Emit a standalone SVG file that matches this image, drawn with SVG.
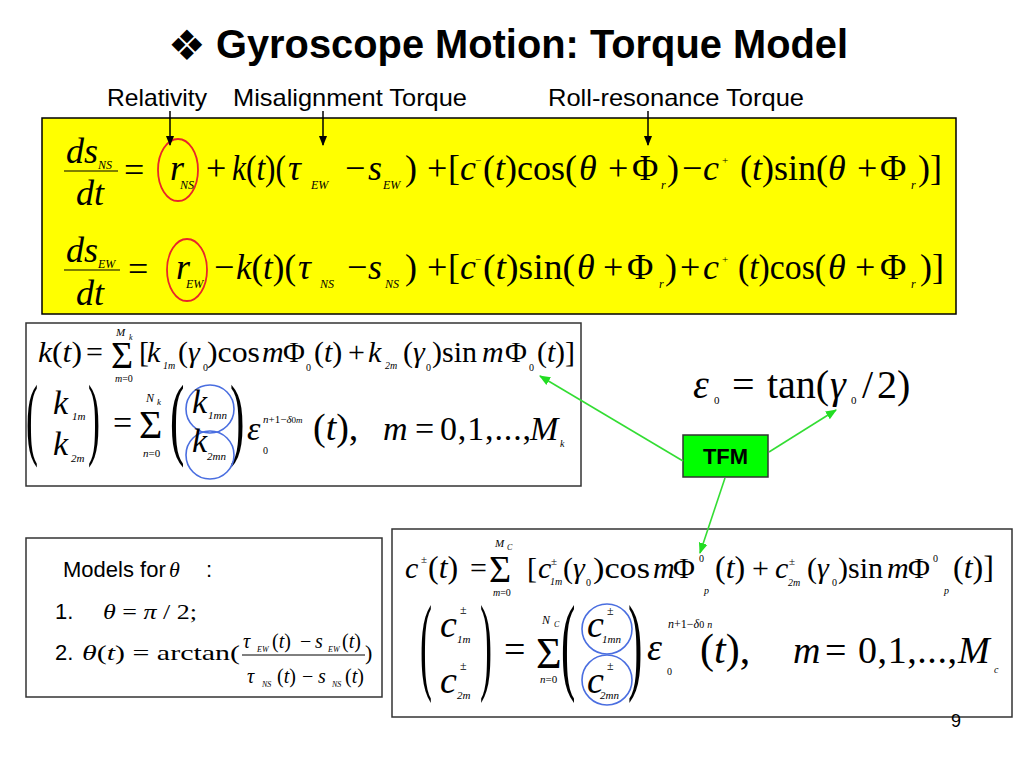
<svg xmlns="http://www.w3.org/2000/svg" width="1024" height="768" viewBox="0 0 1024 768">
<defs>
<style>
.m{font-family:"Liberation Serif","Times New Roman",serif;fill:#000}
.i{font-style:italic}
.s{font-family:"Liberation Sans",Arial,sans-serif;fill:#000}
.box{fill:#fff;stroke:#333;stroke-width:1.5}
.red{fill:none;stroke:#e8262a;stroke-width:1.8}
.blue{fill:none;stroke:#4a6ee0;stroke-width:1.6}
.blk{stroke:#000;stroke-width:1.5;fill:none}
.grn{stroke:#33dd33;stroke-width:1.6;fill:none}
</style>
<marker id="ab" viewBox="0 0 10 10" refX="9" refY="5" markerWidth="7" markerHeight="7" orient="auto"><path d="M0,1 L10,5 L0,9 Z" fill="#000"/></marker>
<marker id="ag" viewBox="0 0 10 10" refX="9" refY="5" markerWidth="7" markerHeight="7" orient="auto"><path d="M0,1 L10,5 L0,9 Z" fill="#22dd22"/></marker>
</defs>
<rect width="1024" height="768" fill="#fff"/>

<g id="title">
<text x="168" y="60" font-family="DejaVu Sans,sans-serif" font-size="42">❖</text>
<text class="s" x="216" y="58" font-size="40" font-weight="bold" textLength="632" lengthAdjust="spacingAndGlyphs">Gyroscope Motion: Torque Model</text>
</g>

<g id="labels" class="s" font-size="24">
<text x="107" y="106" textLength="100" lengthAdjust="spacingAndGlyphs">Relativity</text>
<text x="233" y="106" textLength="234" lengthAdjust="spacingAndGlyphs">Misalignment Torque</text>
<text x="548" y="106" textLength="256" lengthAdjust="spacingAndGlyphs">Roll-resonance Torque</text>
</g>

<g id="yellow-box">
<rect x="42" y="118" width="914" height="196" fill="#ffff00" stroke="#000" stroke-width="1.5"/>
<ellipse class="red" cx="178" cy="170" rx="20" ry="31"/>
<ellipse class="red" cx="187" cy="270" rx="20" ry="31"/>
<line x1="64" y1="171" x2="118" y2="171" stroke="#000" stroke-width="1.2"/>
<line x1="64" y1="270" x2="120" y2="270" stroke="#000" stroke-width="1.2"/>
<g class="m" font-size="36">
<text class="i" x="66" y="163">ds</text>
<text class="i" x="76" y="205">dt</text>
<text x="124" y="182">=</text>
<text class="i" x="170" y="180">r</text>
<text x="206" y="180">+</text>
<text x="232" y="180" textLength="54" lengthAdjust="spacingAndGlyphs"><tspan class="i">k</tspan>(<tspan class="i">t</tspan>)(</text>
<text class="i" x="288" y="180">τ</text>
<text x="345" y="180">−</text>
<text class="i" x="368" y="180">s</text>
<text x="405" y="180">)</text>
<text x="427" y="180">+</text>
<text x="448" y="180">[</text>
<text class="i" x="460" y="180">c</text>
<text x="483" y="180" textLength="94" lengthAdjust="spacingAndGlyphs">(<tspan class="i">t</tspan>)cos(</text>
<text class="i" x="579" y="180">θ</text>
<text x="608" y="180">+</text>
<text x="632" y="180">Φ</text>
<text x="667" y="180">)</text>
<text x="682" y="180">−</text>
<text class="i" x="703" y="180">c</text>
<text x="740" y="180" textLength="88" lengthAdjust="spacingAndGlyphs">(<tspan class="i">t</tspan>)sin(</text>
<text class="i" x="828" y="180">θ</text>
<text x="857" y="180">+</text>
<text x="880" y="180">Φ</text>
<text x="918" y="180">)]</text>

<text class="i" x="66" y="262">ds</text>
<text class="i" x="76" y="305">dt</text>
<text x="128" y="281">=</text>
<text class="i" x="176" y="279">r</text>
<text x="214" y="279">−</text>
<text x="236" y="279" textLength="60" lengthAdjust="spacingAndGlyphs"><tspan class="i">k</tspan>(<tspan class="i">t</tspan>)(</text>
<text class="i" x="298" y="279">τ</text>
<text x="347" y="279">−</text>
<text class="i" x="368" y="279">s</text>
<text x="405" y="279">)</text>
<text x="427" y="279">+</text>
<text x="448" y="279">[</text>
<text class="i" x="460" y="279">c</text>
<text x="483" y="279" textLength="92" lengthAdjust="spacingAndGlyphs">(<tspan class="i">t</tspan>)sin(</text>
<text class="i" x="577" y="279">θ</text>
<text x="603" y="279">+</text>
<text x="627" y="279">Φ</text>
<text x="665" y="279">)</text>
<text x="680" y="279">+</text>
<text class="i" x="703" y="279">c</text>
<text x="738" y="279" textLength="88" lengthAdjust="spacingAndGlyphs">(<tspan class="i">t</tspan>)cos(</text>
<text class="i" x="828" y="279">θ</text>
<text x="855" y="279">+</text>
<text x="880" y="279">Φ</text>
<text x="920" y="279">)]</text>
</g>
<g class="m i" font-size="12">
<text x="98" y="169">NS</text>
<text x="180" y="189">NS</text>
<text x="311" y="189">EW</text>
<text x="383" y="189">EW</text>
<text x="661" y="189">r</text>
<text x="911" y="189">r</text>
<text x="98" y="268">EW</text>
<text x="186" y="288">EW</text>
<text x="320" y="288">NS</text>
<text x="385" y="288">NS</text>
<text x="659" y="288">r</text>
<text x="911" y="288">r</text>
</g>
<g class="m" font-size="11">
<text x="475" y="164">−</text>
<text x="722" y="164">+</text>
<text x="475" y="263">−</text>
<text x="722" y="263">+</text>
</g>
</g>

<g id="k-box">
<rect class="box" x="26" y="323" width="555" height="163"/>
<g class="m" font-size="30">
<text x="38" y="362" textLength="44" lengthAdjust="spacingAndGlyphs"><tspan class="i">k</tspan>(<tspan class="i">t</tspan>)</text>
<text x="86" y="362">=</text>
<text x="111" y="368" font-size="38">Σ</text>
<text x="139" y="362">[</text>
<text class="i" x="147" y="362">k</text>
<text x="178" y="362">(<tspan class="i">γ</tspan></text>
<text x="207" y="362" textLength="53" lengthAdjust="spacingAndGlyphs">)cos</text>
<text class="i" x="262" y="362">m</text>
<text x="283" y="362">Φ</text>
<text x="314" y="362">(<tspan class="i">t</tspan>)</text>
<text x="348" y="362">+</text>
<text class="i" x="368" y="362">k</text>
<text x="403" y="362">(<tspan class="i">γ</tspan></text>
<text x="432" y="362" textLength="45" lengthAdjust="spacingAndGlyphs">)sin</text>
<text class="i" x="482" y="362">m</text>
<text x="505" y="362">Φ</text>
<text x="537" y="362" textLength="38" lengthAdjust="spacing">(<tspan class="i">t</tspan>)]</text>
</g>
<g class="m" font-size="10">
<text class="i" x="116" y="336" font-size="11">M</text><text class="i" x="129" y="340" font-size="8">k</text>
<text x="115" y="382"><tspan class="i">m</tspan>=0</text>
<text class="i" x="163" y="369">1m</text>
<text x="203" y="371">0</text>
<text x="306" y="371">0</text>
<text class="i" x="385" y="369">2m</text>
<text x="426" y="371">0</text>
<text x="529" y="371">0</text>
</g>
<g class="m" font-size="36">
<text transform="translate(26,448) scale(1,2.53)">(</text>
<text transform="translate(88,448) scale(1,2.53)">)</text>
<text transform="translate(170,448) scale(1.2,2.53)">(</text>
<text transform="translate(230,448) scale(1.2,2.53)">)</text>
</g>
<circle class="blue" cx="210" cy="409" r="24"/>
<circle class="blue" cx="210" cy="455" r="24"/>
<g class="m" font-size="34">
<text class="i" x="53" y="414">k</text>
<text class="i" x="53" y="455">k</text>
<text x="113" y="434">=</text>
<text x="139" y="438" font-size="40">Σ</text>
<text class="i" x="192" y="413">k</text>
<text class="i" x="192" y="452">k</text>
<text class="i" x="247" y="440">ε</text>
<text x="313" y="440" font-size="38">(<tspan class="i">t</tspan>),</text>
<text class="i" x="383" y="440">m</text>
<text x="415" y="440">=</text>
<text x="440" y="440" textLength="91" lengthAdjust="spacing">0,1,...,</text>
<text class="i" x="530" y="440">M</text>
</g>
<g class="m" font-size="11">
<text class="i" x="72" y="420">1m</text>
<text class="i" x="71" y="462">2m</text>
<text class="i" x="146" y="402" font-size="12">N</text><text class="i" x="157" y="405" font-size="9">k</text>
<text x="143" y="457"><tspan class="i">n</tspan>=0</text>
<text class="i" x="208" y="419">1mn</text>
<text class="i" x="207" y="460">2mn</text>
<text x="263" y="423"><tspan class="i">n</tspan>+1−<tspan class="i">δ</tspan><tspan font-size="9">0</tspan><tspan class="i" font-size="9">m</tspan></text>
<text x="263" y="454" font-size="10">0</text>
<text class="i" x="560" y="447" font-size="10">k</text>
</g>
</g>

<g id="epsilon-eq" class="m" font-size="40">
<text class="i" x="693" y="398">ε</text>
<text x="714" y="404" font-size="11">0</text>
<text x="732" y="398">=</text>
<text x="767" y="398">tan(</text>
<text class="i" x="830" y="398">γ</text>
<text x="851" y="404" font-size="11">0</text>
<text x="862" y="398">/</text>
<text x="877" y="398">2)</text>
</g>

<g id="tfm">
<rect x="683" y="435" width="85" height="42" fill="#00ff00" stroke="#333" stroke-width="1.5"/>
<text class="s" x="725.5" y="464" font-size="22" font-weight="bold" text-anchor="middle">TFM</text>
</g>

<g id="models-box">
<rect class="box" x="26" y="538" width="356" height="159"/>
<text class="s" x="63" y="577" font-size="22">Models for</text>
<text class="m i" x="169" y="577" font-size="22">θ</text>
<text class="s" x="206" y="577" font-size="22">:</text>
<text class="s" x="55" y="619" font-size="22">1.</text>
<text class="m" x="103" y="619" font-size="22" textLength="94" lengthAdjust="spacingAndGlyphs"><tspan class="i">θ</tspan> = <tspan class="i">π</tspan> / 2;</text>
<text class="s" x="55" y="660" font-size="22">2.</text>
<text class="m" x="82" y="660" font-size="22" textLength="158" lengthAdjust="spacingAndGlyphs"><tspan class="i">θ</tspan>(<tspan class="i">t</tspan>) = arctan(</text>
<line x1="242" y1="655" x2="365" y2="655" stroke="#000" stroke-width="1"/>
<g class="m" font-size="20">
<text class="i" x="243" y="648">τ</text>
<text x="272" y="648">(<tspan class="i">t</tspan>)</text>
<text x="300" y="648">−</text>
<text class="i" x="315" y="648">s</text>
<text x="342" y="648">(<tspan class="i">t</tspan>)</text>
<text class="i" x="247" y="683">τ</text>
<text x="277" y="683">(<tspan class="i">t</tspan>)</text>
<text x="302" y="683">−</text>
<text class="i" x="318" y="683">s</text>
<text x="345" y="683">(<tspan class="i">t</tspan>)</text>
<text x="365" y="660" font-size="22">)</text>
</g>
<g class="m i" font-size="8">
<text x="257" y="652">EW</text>
<text x="328" y="652">EW</text>
<text x="262" y="687">NS</text>
<text x="332" y="687">NS</text>
</g>
</g>

<g id="c-box">
<rect class="box" x="392" y="529" width="620" height="188"/>
<g class="m" font-size="30">
<text class="i" x="405" y="578">c</text>
<text x="428" y="578" font-size="32">(<tspan class="i">t</tspan>)</text>
<text x="470" y="578">=</text>
<text x="489" y="582" font-size="38">Σ</text>
<text x="527" y="578">[</text>
<text class="i" x="538" y="578">c</text>
<text x="563" y="578">(<tspan class="i">γ</tspan></text>
<text x="593" y="578" textLength="57" lengthAdjust="spacingAndGlyphs">)cos</text>
<text class="i" x="653" y="578">m</text>
<text x="673" y="578">Φ</text>
<text x="715" y="578" font-size="32">(<tspan class="i">t</tspan>)</text>
<text x="752" y="578">+</text>
<text class="i" x="775" y="578">c</text>
<text x="807" y="578">(<tspan class="i">γ</tspan></text>
<text x="838" y="578" textLength="45" lengthAdjust="spacingAndGlyphs">)sin</text>
<text class="i" x="887" y="578">m</text>
<text x="908" y="578">Φ</text>
<text x="953" y="578" font-size="32">(<tspan class="i">t</tspan>)]</text>
</g>
<g class="m" font-size="10">
<text x="421" y="563" font-size="11">±</text>
<text class="i" x="495" y="547" font-size="11">M</text><text class="i" x="507" y="550" font-size="8">C</text>
<text x="493" y="596"><tspan class="i">m</tspan>=0</text>
<text x="551" y="565" font-size="11">±</text>
<text class="i" x="550" y="585">1m</text>
<text x="586" y="586">0</text>
<text x="699" y="562">0</text>
<text class="i" x="704" y="594">p</text>
<text x="789" y="565" font-size="11">±</text>
<text class="i" x="788" y="586">2m</text>
<text x="832" y="586">0</text>
<text x="933" y="562">0</text>
<text class="i" x="944" y="594">p</text>
</g>
<g class="m" font-size="36">
<text transform="translate(420,680) scale(1,2.99)">(</text>
<text transform="translate(480,680) scale(1,2.99)">)</text>
<text transform="translate(561,680) scale(1.2,2.99)">(</text>
<text transform="translate(628,680) scale(1.2,2.99)">)</text>
</g>
<circle class="blue" cx="607" cy="629" r="25"/>
<circle class="blue" cx="607" cy="680" r="25"/>
<g class="m" font-size="38">
<text class="i" x="440" y="637">c</text>
<text class="i" x="440" y="693">c</text>
<text x="504" y="662">=</text>
<text x="536" y="668" font-size="44">Σ</text>
<text class="i" x="587" y="637">c</text>
<text class="i" x="587" y="693">c</text>
<text class="i" x="647" y="660">ε</text>
<text x="700" y="663" font-size="42">(<tspan class="i">t</tspan>),</text>
<text class="i" x="793" y="663">m</text>
<text x="825" y="663">=</text>
<text x="858" y="663" textLength="99" lengthAdjust="spacing">0,1,...,</text>
<text class="i" x="958" y="663">M</text>
</g>
<g class="m" font-size="11">
<text x="460" y="614" font-size="12">±</text>
<text class="i" x="457" y="643">1m</text>
<text x="460" y="670" font-size="12">±</text>
<text class="i" x="457" y="699">2m</text>
<text class="i" x="542" y="624" font-size="12">N</text><text class="i" x="554" y="627" font-size="8">C</text>
<text x="540" y="683"><tspan class="i">n</tspan>=0</text>
<text x="607" y="615" font-size="12">±</text>
<text class="i" x="602" y="643">1mn</text>
<text x="607" y="670" font-size="12">±</text>
<text class="i" x="600" y="699">2mn</text>
<text x="668" y="628" font-size="12"><tspan class="i">n</tspan>+1−<tspan class="i">δ</tspan><tspan font-size="10">0</tspan> <tspan class="i" font-size="10">n</tspan></text>
<text x="667" y="675" font-size="10">0</text>
<text class="i" x="994" y="673" font-size="10">c</text>
</g>
</g>

<g id="connectors">
<line class="blk" x1="170" y1="111" x2="170" y2="145" marker-end="url(#ab)"/>
<line class="blk" x1="323" y1="111" x2="323" y2="145" marker-end="url(#ab)"/>
<line class="blk" x1="648" y1="111" x2="648" y2="145" marker-end="url(#ab)"/>
<line class="grn" x1="683" y1="461" x2="540" y2="376" marker-end="url(#ag)"/>
<line class="grn" x1="769" y1="452" x2="836" y2="410" marker-end="url(#ag)"/>
<line class="grn" x1="725" y1="478" x2="700" y2="553" marker-end="url(#ag)"/>
</g>

<text id="page" class="s" x="951" y="727" font-size="18">9</text>
</svg>
